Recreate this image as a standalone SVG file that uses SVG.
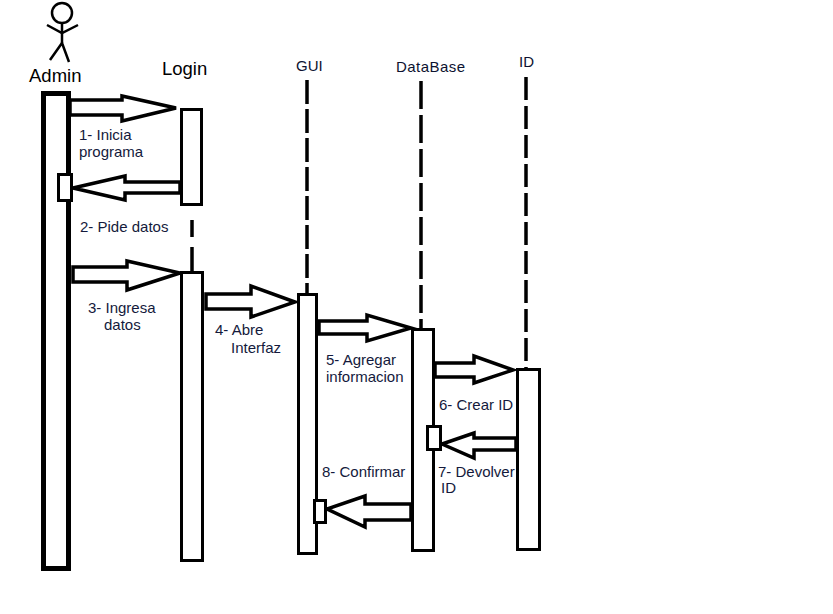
<svg xmlns="http://www.w3.org/2000/svg" width="833" height="614" viewBox="0 0 833 614">
<style>
.bg{fill:#ffffff}
.act{fill:#ffffff;stroke:#000;stroke-width:3}
.life{stroke:#000;stroke-width:3.5;fill:none}
.arr{fill:#ffffff;stroke:#000;stroke-width:3.5;stroke-linejoin:miter}
.big{font-family:"Liberation Sans",Arial,sans-serif;font-size:18.5px;fill:#000}
.hdr{font-family:"Liberation Sans",Arial,sans-serif;font-size:15px;fill:#0c1230}
.lbl{font-family:"Liberation Sans",Arial,sans-serif;font-size:15px;fill:#141a3c}
</style>
<rect class="bg" x="0" y="0" width="833" height="614"/>

<g id="admin">
  <circle cx="62" cy="13" r="10" fill="none" stroke="#000" stroke-width="2.5"/>
  <polyline points="47,25 62,33 78,25" fill="none" stroke="#000" stroke-width="2.5"/>
  <line x1="62" y1="23" x2="62" y2="43" stroke="#000" stroke-width="2.5"/>
  <polyline points="50,60 62,43 69,62" fill="none" stroke="#000" stroke-width="2.5"/>
  <text class="big" x="29" y="82">Admin</text>
  <rect x="43.5" y="93.5" width="25" height="475" fill="#fff" stroke="#000" stroke-width="5"/>
</g>

<g id="login">
  <text class="big" x="162" y="75">Login</text>
  <line class="life" x1="192" y1="220" x2="192" y2="237"/>
  <line class="life" x1="192" y1="247" x2="192" y2="271"/>
  <rect class="act" x="181.5" y="109.5" width="20" height="95"/>
  <rect class="act" x="181.5" y="272.5" width="21" height="288"/>
</g>

<g id="gui">
  <text class="hdr" x="296" y="71">GUI</text>
  <line class="life" x1="307" y1="80" x2="307" y2="293" stroke-dasharray="24 5"/>
  <rect class="act" x="298.5" y="294.5" width="18" height="259"/>
</g>

<g id="database">
  <text class="hdr" x="396" y="72" textLength="69">DataBase</text>
  <line class="life" x1="421" y1="81" x2="421" y2="328" stroke-dasharray="28 6"/>
  <rect class="act" x="412.5" y="329.5" width="21" height="221"/>
</g>

<g id="id">
  <text class="hdr" x="519" y="67">ID</text>
  <line class="life" x1="526" y1="77" x2="526" y2="368" stroke-dasharray="23 6"/>
  <rect class="act" x="517.5" y="369.5" width="22" height="180"/>
</g>

<g id="connectors">
  <polygon class="arr" points="70,100 122,100 122,96 176,108 122,121 122,115 70,115"/>
  <polygon class="arr" points="180,182 125,182 125,176 73,188 125,200 125,193 180,193"/>
  <polygon class="arr" points="73,267 127,267 127,261 180,273 127,290 127,282 73,282"/>
  <polygon class="arr" points="206,294 251,294 251,286 295,302 251,317 251,309 206,309"/>
  <polygon class="arr" points="319,321 367,321 367,315 411,328 367,341 367,334 319,334"/>
  <polygon class="arr" points="435,363 474,363 474,356 513,370 474,383 474,377 435,377"/>
  <polygon class="arr" points="516,438 474,438 474,433 442,444 474,458 474,450 516,450"/>
  <polygon class="arr" points="411,504 365,504 365,496 327,509 365,527 365,520 411,520"/>
</g>

<g id="activations">
  <rect class="act" x="58.5" y="174.5" width="13" height="26"/>
  <rect class="act" x="427.5" y="426.5" width="13" height="23"/>
  <rect class="act" x="314.5" y="500.5" width="11" height="22"/>
</g>

<g id="labels">
  <text class="lbl" x="79" y="140">1- Inicia</text>
  <text class="lbl" x="79" y="157">programa</text>
  <text class="lbl" x="80" y="232">2- Pide datos</text>
  <text class="lbl" x="88" y="313">3- Ingresa</text>
  <text class="lbl" x="104" y="330">datos</text>
  <text class="lbl" x="215" y="335">4- Abre</text>
  <text class="lbl" x="231" y="353">Interfaz</text>
  <text class="lbl" x="326" y="365">5- Agregar</text>
  <text class="lbl" x="326" y="382">informacion</text>
  <text class="lbl" x="439" y="410">6- Crear ID</text>
  <text class="lbl" x="438" y="477">7- Devolver</text>
  <text class="lbl" x="441" y="493">ID</text>
  <text class="lbl" x="322" y="477">8- Confirmar</text>
</g>
</svg>
